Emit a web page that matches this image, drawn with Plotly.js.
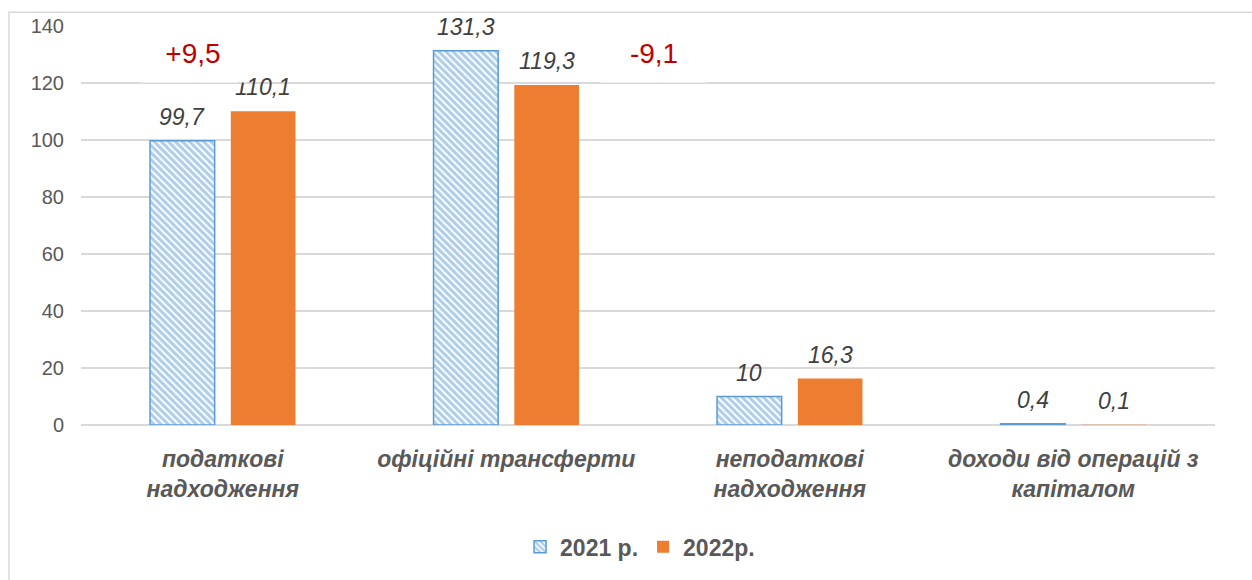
<!DOCTYPE html>
<html>
<head>
<meta charset="utf-8">
<script src="https://cdn.plot.ly/plotly-3.0.1.min.js"></script>
<style>
  html, body { margin: 0; padding: 0; background: #fff; }
  #chart { width: 1252px; height: 580px; }
</style>
</head>
<body>
<div id="chart"></div>
<script>
// categories (Ukrainian labels, line breaks as on the picture)
var categories = [
  'податкові<br>надходження',
  'офіційні трансферти',
  'неподаткові<br>надходження',
  'доходи від операцій з<br>капіталом'
];
var values2021 = [99.7, 131.3, 10, 0.4];
var values2022 = [110.1, 119.3, 16.3, 0.1];
var seriesNames = ['2021 р.', '2022р.'];
var changeNotes = ['+9,5', '-9,1'];

function fmt(v) { return String(v).replace('.', ','); }

var labelFont = { family: 'Liberation Sans, Arial, sans-serif', size: 23, color: '#404040', style: 'italic' };

var trace2021 = {
  type: 'bar',
  name: seriesNames[0],
  x: categories,
  y: values2021,
  hoverinfo: 'x+y',
  marker: {
    color: '#ffffff',
    line: { color: '#5B9BD5', width: 1.5 },
    pattern: { shape: '\\', fgcolor: '#5B9BD5', bgcolor: '#ffffff', size: 5, solidity: 0.6, fillmode: 'overlay' }
  }
};

var trace2022 = {
  type: 'bar',
  name: seriesNames[1],
  x: categories,
  y: values2022,
  hoverinfo: 'x+y',
  marker: { color: '#ED7D31' }
};

// value labels above the bars (two bars per category, shifted left / right)
var valueLabels = [];
function addLabels(vals, shift) {
  vals.forEach(function (v, i) {
    valueLabels.push({
      xref: 'x', yref: 'y',
      x: categories[i], y: v,
      xshift: shift, yshift: 9,
      xanchor: 'center', yanchor: 'bottom',
      text: fmt(v),
      showarrow: false,
      font: labelFont
    });
  });
}
addLabels(values2021, -40.5);
addLabels(values2022, 40.5);

// white boxes with the change notes, drawn over gridlines and labels
var noteBoxes = [
  { xref: 'paper', yref: 'paper', x: 0.0988, y: 0.9330, text: changeNotes[0] },
  { xref: 'paper', yref: 'paper', x: 0.5053, y: 0.9330, text: changeNotes[1] }
].map(function (a) {
  a.xanchor = 'center';
  a.yanchor = 'middle';
  a.showarrow = false;
  a.bgcolor = '#ffffff';
  a.width = 106;
  a.height = 58;
  a.borderpad = 0;
  a.font = { size: 28, color: '#C00000' };
  return a;
});

var layout = {
  width: 1252,
  height: 580,
  margin: { l: 81, r: 37, t: 26, b: 151 },
  paper_bgcolor: '#ffffff',
  plot_bgcolor: '#ffffff',
  barmode: 'group',
  bargap: 0.43,
  bargroupgap: 0.2,
  font: { family: 'Liberation Sans, Arial, sans-serif', color: '#595959' },
  xaxis: {
    type: 'category',
    showgrid: false,
    showline: false,
    ticks: '',
    ticklabelstandoff: 18,
    tickfont: { size: 23, color: '#595959', weight: 'bold', style: 'italic' }
  },
  yaxis: {
    range: [0, 140],
    dtick: 20,
    showgrid: true,
    gridcolor: '#D9D9D9',
    gridwidth: 1.5,
    zeroline: true,
    zerolinecolor: '#D9D9D9',
    zerolinewidth: 1.5,
    showline: false,
    ticks: '',
    ticklabelstandoff: 16,
    tickfont: { size: 20, color: '#595959' }
  },
  showlegend: true,
  legend: {
    orientation: 'h',
    x: 0.493,
    xanchor: 'center',
    y: -0.305,
    yanchor: 'middle',
    font: { size: 23, color: '#595959', weight: 'bold' },
    itemwidth: 30,
    tracegroupgap: 0
  },
  annotations: valueLabels.concat(noteBoxes),
  shapes: [
    {
      type: 'path',
      xref: 'paper', yref: 'paper',
      path: 'M -0.0635 -0.4 L -0.0635 1.0347 L 1.05 1.0347',
      line: { color: '#D9D9D9', width: 1.5 }
    }
  ]
};

Plotly.newPlot('chart', [trace2021, trace2022], layout, { displayModeBar: false, staticPlot: true });
</script>
</body>
</html>
